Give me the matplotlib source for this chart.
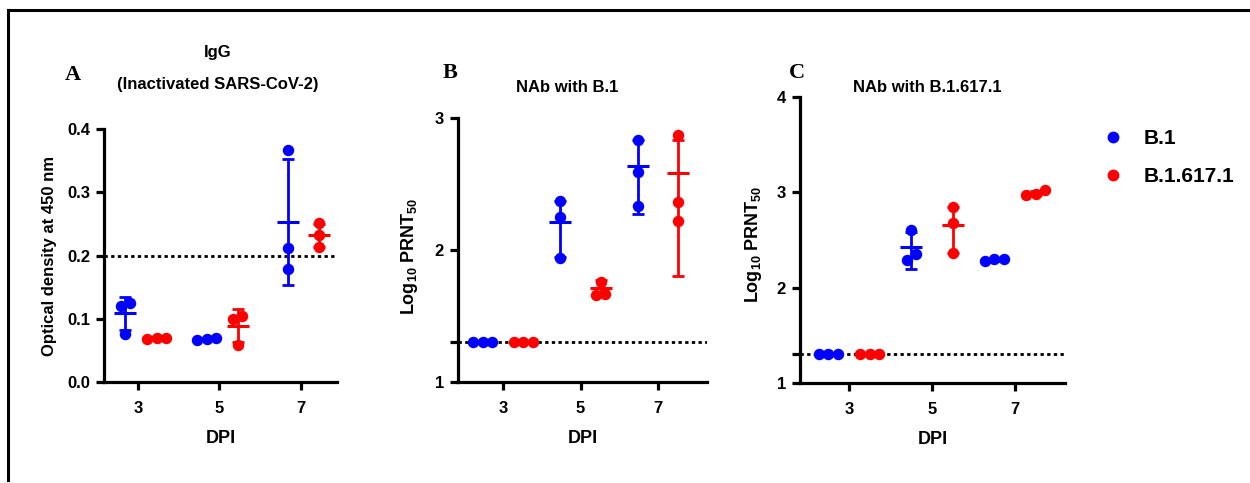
import numpy as np
import matplotlib.pyplot as plt
from matplotlib.lines import Line2D

plt.rcParams['font.family'] = ['Liberation Sans', 'DejaVu Sans']
plt.rcParams['font.weight'] = 'bold'
plt.rcParams['mathtext.fontset'] = 'custom'
plt.rcParams['mathtext.rm'] = 'Liberation Sans:bold'
plt.rcParams['mathtext.it'] = 'Liberation Sans:bold'
plt.rcParams['mathtext.bf'] = 'Liberation Sans:bold'

dpi_days = [3, 5, 7]
variants = ['B.1', 'B.1.617.1']
colors = ['#0000FF', '#FF0000']

# Panel A - IgG (OD 450 nm), per variant: 3 animals per DPI
igg_b1 = [[0.125, 0.120, 0.076], [0.067, 0.069, 0.068], [0.367, 0.212, 0.179]]
igg_b1_mean = [0.109, 0.068, 0.253]
igg_b1_lo = [0.082, 0.067, 0.153]
igg_b1_hi = [0.135, 0.069, 0.352]
igg_d = [[0.068, 0.070, 0.070], [0.104, 0.100, 0.058], [0.251, 0.232, 0.213]]
igg_d_mean = [0.069, 0.089, 0.232]
igg_d_lo = [0.068, 0.063, 0.214]
igg_d_hi = [0.071, 0.115, 0.250]

# Panel B - NAb with B.1 (log10 PRNT50)
nb1_b1 = [[1.3, 1.3, 1.3], [2.37, 2.25, 1.94], [2.83, 2.59, 2.33]]
nb1_b1_mean = [1.3, 2.21, 2.64]
nb1_b1_lo = [1.3, 1.95, 2.27]
nb1_b1_hi = [1.3, 2.37, 2.83]
nb1_d = [[1.3, 1.3, 1.3], [1.76, 1.66, 1.67], [2.87, 2.36, 2.22]]
nb1_d_mean = [1.3, 1.71, 2.58]
nb1_d_lo = [1.3, 1.66, 1.80]
nb1_d_hi = [1.3, 1.77, 2.83]

# Panel C - NAb with B.1.617.1 (log10 PRNT50)
nd_b1 = [[1.3, 1.3, 1.3], [2.29, 2.60, 2.35], [2.28, 2.30, 2.30]]
nd_b1_mean = [1.3, 2.43, 2.29]
nd_b1_lo = [1.3, 2.20, 2.28]
nd_b1_hi = [1.3, 2.58, 2.30]
nd_d = [[1.3, 1.3, 1.3], [2.85, 2.68, 2.36], [2.97, 3.02, 2.98]]
nd_d_mean = [1.3, 2.66, 2.99]
nd_d_lo = [1.3, 2.36, 2.97]
nd_d_hi = [1.3, 2.85, 3.01]

W, H = 1250, 483
fig = plt.figure(figsize=(W / 100, H / 100), dpi=100)


def px_axes(left, right, top, bottom):
    return fig.add_axes([left / W, 1 - bottom / H, (right - left) / W, (bottom - top) / H])


def swarm(vals, yscale, dot=9.5):
    vals = np.asarray(vals, float)
    order = np.argsort(vals)
    offs = np.zeros(len(vals))
    clusters = [[order[0]]]
    for j in order[1:]:
        if (vals[j] - vals[clusters[-1][-1]]) * yscale < dot:
            clusters[-1].append(j)
        else:
            clusters.append([j])
    for c in clusters:
        n = len(c)
        for m, j in enumerate(c):
            offs[j] = (m - (n - 1) / 2) * dot
    return offs


def draw_panel(ax, groups, xlim, ylim, yticks, ylabels, offsets, cutoff):
    ax.set_xlim(xlim)
    ax.set_ylim(ylim)
    bb = ax.get_window_extent()
    xscale = bb.width / (xlim[1] - xlim[0])
    yscale = bb.height / (ylim[1] - ylim[0])
    ax.axhline(cutoff, color='black', lw=2, ls=(0, (1.2, 1.2)), zorder=1)
    for k, (pts, means, los, his) in enumerate(groups):
        for i, d in enumerate(dpi_days):
            xc = d + offsets[k]
            vals = pts[i]
            dx = swarm(vals, yscale) / xscale
            ax.scatter(xc + dx, vals, s=68, color=colors[k], linewidths=0,
                       zorder=3, clip_on=False)
            m = means[i]
            ax.errorbar([xc], [m], yerr=[[m - los[i]], [his[i] - m]], fmt='none',
                        ecolor=colors[k], elinewidth=2, capsize=4.3, capthick=2,
                        zorder=4)
            hw = 11 / xscale
            ax.plot([xc - hw, xc + hw], [m, m], color=colors[k], lw=2.2,
                    solid_capstyle='butt', zorder=4)
    for s in ['top', 'right']:
        ax.spines[s].set_visible(False)
    for s in ['left', 'bottom']:
        ax.spines[s].set_linewidth(2.3)
    ax.set_xticks(dpi_days)
    ax.set_xticklabels([str(d) for d in dpi_days], fontsize=12, fontweight='bold')
    ax.set_yticks(yticks)
    ax.set_yticklabels(ylabels, fontsize=12, fontweight='bold')
    ax.tick_params(direction='out', length=6, width=2.3, pad=4)
    ax.tick_params(axis='x', pad=8)
    ax.set_xlabel('DPI', fontsize=13, fontweight='bold', labelpad=10)


axA = px_axes(104, 337, 129, 382)
draw_panel(axA,
           [(igg_b1, igg_b1_mean, igg_b1_lo, igg_b1_hi),
            (igg_d, igg_d_mean, igg_d_lo, igg_d_hi)],
           (2.15, 7.9), (0, 0.4), [0, 0.1, 0.2, 0.3, 0.4],
           ['0.0', '0.1', '0.2', '0.3', '0.4'], (-0.32, 0.45), 0.2)

axB = px_axes(458, 707, 118, 382)
draw_panel(axB,
           [(nb1_b1, nb1_b1_mean, nb1_b1_lo, nb1_b1_hi),
            (nb1_d, nb1_d_mean, nb1_d_lo, nb1_d_hi)],
           (1.84, 8.26), (1, 3), [1, 1.3, 2, 3], ['1', '', '2', '3'],
           (-0.52, 0.52), 1.3)

axC = px_axes(800, 1065, 97, 383)
draw_panel(axC,
           [(nd_b1, nd_b1_mean, nd_b1_lo, nd_b1_hi),
            (nd_d, nd_d_mean, nd_d_lo, nd_d_hi)],
           (1.82, 8.2), (1, 4), [1, 1.3, 2, 3, 4], ['1', '', '2', '3', '4'],
           (-0.5, 0.5), 1.3)


def ftext(x, y, s, **kw):
    fig.text(x / W, 1 - y / H, s, ha='center', va='center', **kw)


ftext(73, 75, 'A', fontsize=16, fontweight='bold', family='Liberation Serif')
ftext(450, 73, 'B', fontsize=16, fontweight='bold', family='Liberation Serif')
ftext(797, 73, 'C', fontsize=16, fontweight='bold', family='Liberation Serif')

ftext(218, 53, 'IgG', fontsize=12, fontweight='bold')
ftext(218, 85, '(Inactivated SARS-CoV-2)', fontsize=12, fontweight='bold')
ftext(567, 87, 'NAb with B.1', fontsize=12, fontweight='bold')
ftext(927, 87, 'NAb with B.1.617.1', fontsize=12, fontweight='bold')

ftext(50, 256, 'Optical density at 450 nm', fontsize=12, fontweight='bold', rotation=90)
ftext(409, 256, r'Log$_{10}$ PRNT$_{50}$', fontsize=13, fontweight='bold', rotation=90)
ftext(754, 244, r'Log$_{10}$ PRNT$_{50}$', fontsize=13, fontweight='bold', rotation=90)

handles = [Line2D([], [], ls='none', marker='o', markersize=7.5, color=c) for c in colors]
fig.legend(handles, variants, loc='upper left', bbox_to_anchor=(1103 / W, 1 - 129 / H),
           frameon=False, handlelength=1.0, handletextpad=0.95,
           labelspacing=0.93, borderpad=0, borderaxespad=0,
           prop={'weight': 'bold', 'size': 15})

# outer frame (top and left edges)
fig.add_artist(Line2D([8 / W, 1], [1 - 10 / H, 1 - 10 / H], color='black', lw=2.2))
fig.add_artist(Line2D([8 / W, 8 / W], [1 - 10 / H, 1 - 480 / H], color='black', lw=2.2))

fig.savefig('out.png', dpi=100)
